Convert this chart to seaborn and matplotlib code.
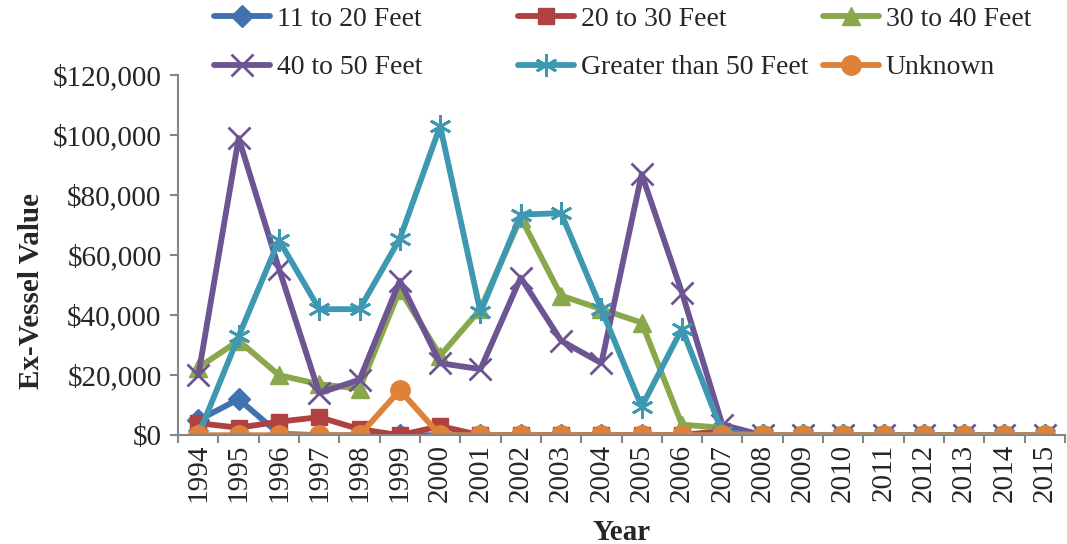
import pandas as pd
import matplotlib
matplotlib.use('Agg')
import matplotlib.pyplot as plt
import seaborn as sns
from matplotlib.ticker import FuncFormatter, FixedLocator

# данные: стоимость улова по длине судна
years = list(range(1994, 2016))
ft_11_20 = [5000, 12000, 500, 0, 0, 0, 0, 0, 0, 0, 0, 0, 0, 0, 0, 0, 0, 0, 0, 0, 0, 0]
ft_20_30 = [4000, 2500, 4500, 6000, 2000, 0, 3000, 0, 0, 0, 0, 0, 0, 1500, 0, 0, 0, 0, 0, 0, 0, 0]
ft_30_40 = [22500, 31500, 20000, 17000, 15500, 48500, 26500, 42000, 72500, 46500, 42000, 37500, 3500, 2500,
            0, 0, 0, 0, 0, 0, 0, 0]
ft_40_50 = [20000, 99000, 55500, 14000, 18500, 51500, 24000, 22000, 52500, 31500, 24000, 87000, 47500, 3500,
            0, 0, 0, 0, 0, 0, 0, 0]
ft_50_plus = [0, 33000, 65000, 42000, 42000, 65500, 103000, 41000, 73500, 74000, 42000, 9500, 35500, 1000,
              0, 0, 0, 0, 0, 0, 0, 0]
unknown = [0, 0, 0, 0, 0, 15000, 0, 0, 0, 0, 0, 0, 0, 0, 0, 0, 0, 0, 0, 0, 0, 0]

series_names = ['11 to 20 Feet', '20 to 30 Feet', '30 to 40 Feet', '40 to 50 Feet',
                'Greater than 50 Feet', 'Unknown']
series_values = [ft_11_20, ft_20_30, ft_30_40, ft_40_50, ft_50_plus, unknown]

colors = ['#3F72AF', '#AF4240', '#88A84B', '#6D5493', '#3E98B2', '#DE8239']
markers = ['D', 's', '^', 'x', (6, 2, 0), 'o']
msizes = [11, 11, 13, 16, 16, 14]

df = pd.DataFrame({'idx': list(range(len(years))) * len(series_names),
                   'value': sum(series_values, []),
                   'series': [n for n in series_names for _ in years]})

sns.set_style('white')
plt.rcParams['font.family'] = ['Liberation Serif', 'DejaVu Serif']

fig = plt.figure(figsize=(10.67, 5.44), dpi=100)
ax = fig.add_axes([0.167, 0.2, 0.831, 0.662])

handles = []
for name, c, m, ms in zip(series_names, colors, markers, msizes):
    sub = df[df['series'] == name]
    sns.lineplot(data=sub, x='idx', y='value', ax=ax, color=c, linewidth=4.2,
                 marker=m, markersize=ms, markeredgecolor=c, markeredgewidth=2 if m in ('x', (6, 2, 0)) else 1,
                 legend=False)
    handles.append(ax.lines[-1])

ax.set_xlim(-0.5, len(years) - 0.5)
ax.set_ylim(0, 120000)
ax.set_yticks(range(0, 120001, 20000))
ax.yaxis.set_major_formatter(FuncFormatter(lambda v, p: '${:,.0f}'.format(v)))
ax.set_xticks(range(len(years)))
ax.set_xticklabels([str(y) for y in years], rotation=90)
ax.xaxis.set_minor_locator(FixedLocator([i + 0.5 for i in range(-1, len(years))]))
ax.tick_params(axis='x', which='major', length=0, labelsize=21, pad=6)
ax.tick_params(axis='x', which='minor', length=6, width=1.5, color='#868686', direction='out', bottom=True)
ax.tick_params(axis='y', length=6, width=1.5, color='#868686', direction='out', left=True, labelsize=21, pad=6)

for s in ['top', 'right']:
    ax.spines[s].set_visible(False)
for s in ['left', 'bottom']:
    ax.spines[s].set_color('#868686')
    ax.spines[s].set_linewidth(1.5)

ax.set_xlabel('Year', fontsize=21, fontweight='bold', labelpad=12)
ax.set_ylabel('Ex-Vessel Value', fontsize=21, fontweight='bold')
ax.yaxis.set_label_coords(-0.15, 0.40)

# легенда: три колонки по две строки
col_x = [0.198, 0.483, 0.769]
for k in range(3):
    hh = [handles[k], handles[k + 3]]
    ll = [series_names[k], series_names[k + 3]]
    fig.legend(hh, ll, loc='upper left', bbox_to_anchor=(col_x[k], 0.993), frameon=False,
               fontsize=20, handlelength=2.0, handletextpad=0.25, labelspacing=0.82, borderaxespad=0,
               borderpad=0.1)

plt.savefig('out.png', dpi=100)
